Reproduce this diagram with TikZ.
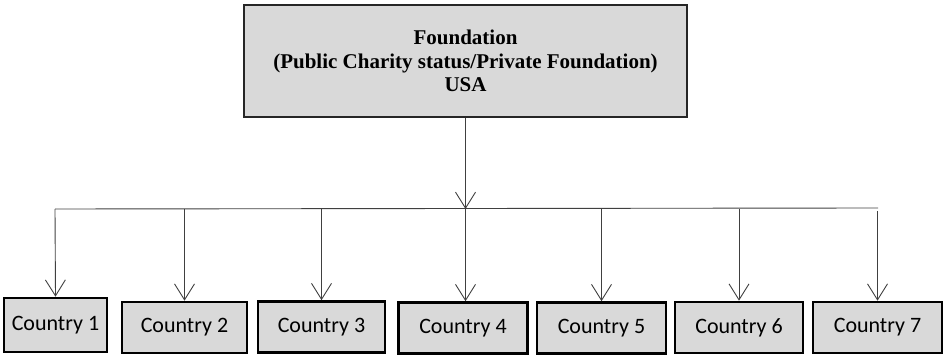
\documentclass[tikz,border=0pt]{standalone}
\usepackage{fontspec}
\setmainfont{Liberation Serif}
\newfontfamily\carlito{Carlito}
\usetikzlibrary{arrows.meta}
\usetikzlibrary{positioning}

\begin{document}
\begin{tikzpicture}[
  x=1pt, y=-1pt,
  head/.style={draw=black!85,line width=1.6pt,fill=black!15,align=center,
    minimum width=443pt,minimum height=112pt,inner sep=0pt,
    font=\fontsize{21}{23.5}\selectfont\bfseries},
  country/.style={draw=black,line width=2.6pt,fill=black!15,minimum height=51pt,
    inner sep=0pt,font=\carlito\fontsize{22}{25}\selectfont},
  link/.style={draw=black!75,line width=0.9pt},
  arr/.style={link,-{Straight Barb[length=16pt,width=20pt]}}
]
\useasboundingbox (0,0) rectangle (944,355);

% top box
\node[head] (found) at (465.5,61) {Foundation\\(Public Charity status/Private Foundation)\\USA};

% country boxes
\node[country,minimum width=103pt,minimum height=54pt] (c1) at (55.5,325) {Country 1};
\node[country,minimum width=125pt] (c2) at (184.5,327.5) {Country 2};
\node[country,minimum width=127pt] (c3) at (321.5,327) {Country 3};
\node[country,minimum width=129pt] (c4) at (463,328) {Country 4};
\node[country,minimum width=129pt] (c5) at (601.5,328) {Country 5};
\node[country,minimum width=128pt] (c6) at (739,327.5) {Country 6};
\node[country,minimum width=129pt] (c7) at (877.5,327.5) {Country 7};

% distribution bar
\coordinate (bar-l) at (55,209);
\coordinate (bar-r) at (878,208);
\coordinate (hub) at (found.south |- bar-l);
\draw[link] (bar-l) -- (bar-r);

\draw[arr] (found.south) -- (hub);
\draw[arr] (hub) -- (hub |- c4.north);

\draw[arr] (bar-l) -- (c1.north);
\draw[arr] (c2.north |- bar-l) -- (c2.north);
\draw[arr] (c3.north |- bar-l) -- (c3.north);
\draw[arr] (c5.north |- bar-l) -- (c5.north);
\draw[arr] (c6.north |- bar-l) -- (c6.north);
\draw[arr] ([yshift=-3pt]c7.north |- bar-r) -- (c7.north);
\end{tikzpicture}
\end{document}
